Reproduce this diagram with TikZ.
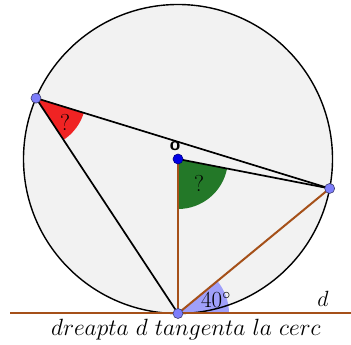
\RequirePackage{fix-cm}
\documentclass[tikz,border=0pt]{standalone}
\usetikzlibrary{angles,calc}
\definecolor{brn}{RGB}{165,80,25}
\definecolor{circfill}{RGB}{242,242,242}
\definecolor{ptfill}{RGB}{125,125,250}
\definecolor{ptdraw}{RGB}{60,60,110}
\definecolor{redang}{RGB}{240,35,35}
\definecolor{greenang}{RGB}{35,120,40}
\definecolor{blueang}{RGB}{160,160,250}
\tikzset{
  blk/.style={line width=1.7pt,black},
  orl/.style={line width=2pt,brn},
  ptn/.style={circle,fill=ptfill,draw=ptdraw,line width=0.6pt,inner sep=0pt,minimum size=10pt},
  cpt/.style={circle,fill=blue!90!black,draw=blue!50!black,line width=0.6pt,inner sep=0pt,minimum size=10pt},
  lbl/.style={font=\fontsize{23}{25}\selectfont, inner sep=0pt}
}
\begin{document}
\begin{tikzpicture}[x=1pt,y=1pt]
\useasboundingbox (0,0) rectangle (351,345);
\coordinate (O) at (178,186);
\coordinate (A) at ($(O)+(156.8:154.5)$);
\coordinate (B) at ($(O)+(-11:154.5)$);
\coordinate (C) at ($(O)+(-90:154.5)$);
\coordinate (L) at (10,32);
\coordinate (R) at (351,32);
\coordinate (Dr) at (300,32);
\fill[circfill] (O) circle (154.5);
% angle sectors
\pic[fill=redang, angle radius=50pt, draw=none] {angle=C--A--B};
\pic[fill=greenang, angle radius=50pt, draw=none] {angle=C--O--B};
\pic[fill=blueang, angle radius=51pt, draw=none] {angle=Dr--C--B};
\draw[line width=1.4pt] (O) circle (154.5);
% lines
\draw[orl] (L) -- (R);
\draw[blk] (A) -- (B);
\draw[blk] (A) -- (C);
\draw[blk] (O) -- (B);
\draw[orl] (O) -- (C);
\draw[orl] (C) -- (B);
% points
\node[ptn] (pA) at (A) {};
\node[ptn] (pB) at (B) {};
\node[ptn] (pC) at (C) {};
\node[cpt] (pO) at (O) {};
% labels
\node[lbl] (q1) at (65,223) {?};
\node[lbl] (q2) at (199,162) {?};
\node[font=\fontsize{23}{25}\selectfont, inner sep=0pt] (a40) at (216,45) {40$^\circ$};
\node[font=\fontsize{22}{24}\selectfont, inner sep=0pt] (dl) at (323,46) {$d$};
\node[font=\fontsize{19}{21}\selectfont\sffamily\bfseries, inner sep=0pt] (ol) at (175,199) {o};
\node[font=\fontsize{23.5}{26}\selectfont, inner sep=0pt] (txt) at (186,15) {$dreapta\ d\ tangenta\ la\ cerc$};
\end{tikzpicture}
\end{document}
